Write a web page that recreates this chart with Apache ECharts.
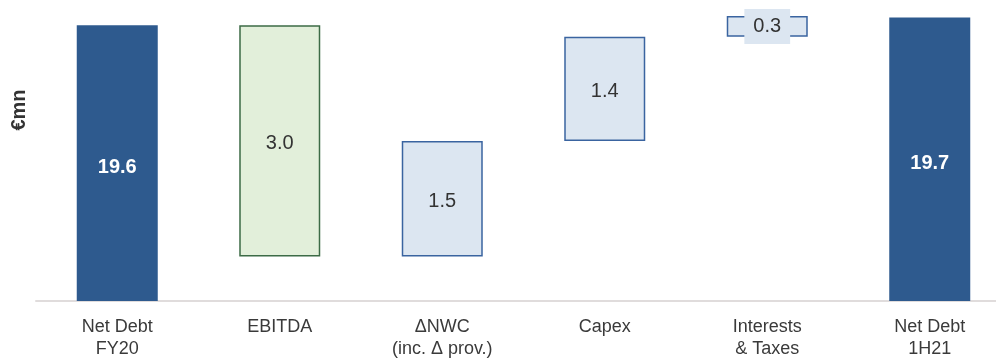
<!DOCTYPE html>
<html>
<head>
<meta charset="utf-8">
<script src="https://cdn.jsdelivr.net/npm/echarts@6/dist/echarts.min.js"></script>
<style>
html,body{margin:0;padding:0;background:#fff;overflow:hidden;width:996px;height:360px;}
#chart{width:1011px;height:360px;}
</style>
</head>
<body>
<div id="chart"></div>
<script>
const categories = ['Net Debt\nFY20', 'EBITDA', 'ΔNWC\n(inc. Δ prov.)', 'Capex', 'Interests\n& Taxes', 'Net Debt\n1H21'];
const totals = [19.6, null, null, null, null, 19.7];
const changes = [null, -3.02, 1.51, 1.36, 0.27, null];
const kinds = ['total', 'green', 'blue', 'blue', 'blue', 'total'];

const FONT = '"Liberation Sans", Arial, Helvetica, sans-serif';

const styles = {
  total: { color: '#2E5A8E', borderWidth: 0 },
  green: { color: '#E2EFDA', borderColor: '#3C6B46', borderWidth: 1.5 },
  blue: { color: '#DCE6F1', borderColor: '#3A64A0', borderWidth: 1.5 }
};

const baseData = [];
const visData = [];
let running = 0;
categories.forEach((c, i) => {
  const kind = kinds[i];
  if (totals[i] !== null) {
    running = totals[i];
    baseData.push(0);
    visData.push({
      value: totals[i],
      itemStyle: styles[kind],
      label: { color: '#ffffff', fontWeight: 'bold', offset: [0, 4] }
    });
  } else {
    const ch = changes[i];
    const lo = Math.min(running, running + ch);
    running += ch;
    baseData.push(lo);
    const item = {
      value: Math.abs(ch),
      itemStyle: styles[kind],
      label: { color: '#333333', fontWeight: 'normal', offset: [0, 3] }
    };
    if (i === 4) {
      item.label.backgroundColor = '#DCE6F1';
      item.label.padding = [12, 9, 3, 9];
      item.label.offset = [0, 0];
    }
    visData.push(item);
  }
});

const chart = echarts.init(document.getElementById('chart'), null, { renderer: 'canvas', width: 1011, height: 360 });
chart.setOption({
  animation: false,
  backgroundColor: '#ffffff',
  grid: { left: 36, right: 0, top: 0, bottom: 56, containLabel: false },
  xAxis: {
    type: 'category',
    data: categories,
    axisLine: { show: true, lineStyle: { color: '#E0DCDC', width: 2 } },
    axisTick: { show: false },
    axisLabel: {
      interval: 0,
      margin: 15,
      color: '#3A3A3A',
      fontSize: 18,
      lineHeight: 22,
      fontFamily: FONT
    }
  },
  yAxis: {
    type: 'value',
    min: 16,
    max: 19.93,
    show: false,
    splitLine: { show: false }
  },
  graphic: [{
    type: 'text',
    x: 19,
    y: 110,
    rotation: Math.PI / 2,
    style: {
      text: '€mn',
      fontSize: 20,
      fontWeight: 'bold',
      fontFamily: FONT,
      fill: '#333333',
      textAlign: 'center',
      textVerticalAlign: 'middle'
    }
  }],
  series: [
    {
      type: 'bar',
      stack: 'w',
      barWidth: 81,
      data: baseData,
      itemStyle: { color: 'rgba(0,0,0,0)' },
      silent: true
    },
    {
      type: 'bar',
      stack: 'w',
      barWidth: 81,
      data: visData,
      label: {
        show: true,
        position: 'inside',
        fontSize: 20,
        fontFamily: FONT,
        formatter: p => p.value.toFixed(1)
      }
    }
  ]
});
</script>
</body>
</html>
